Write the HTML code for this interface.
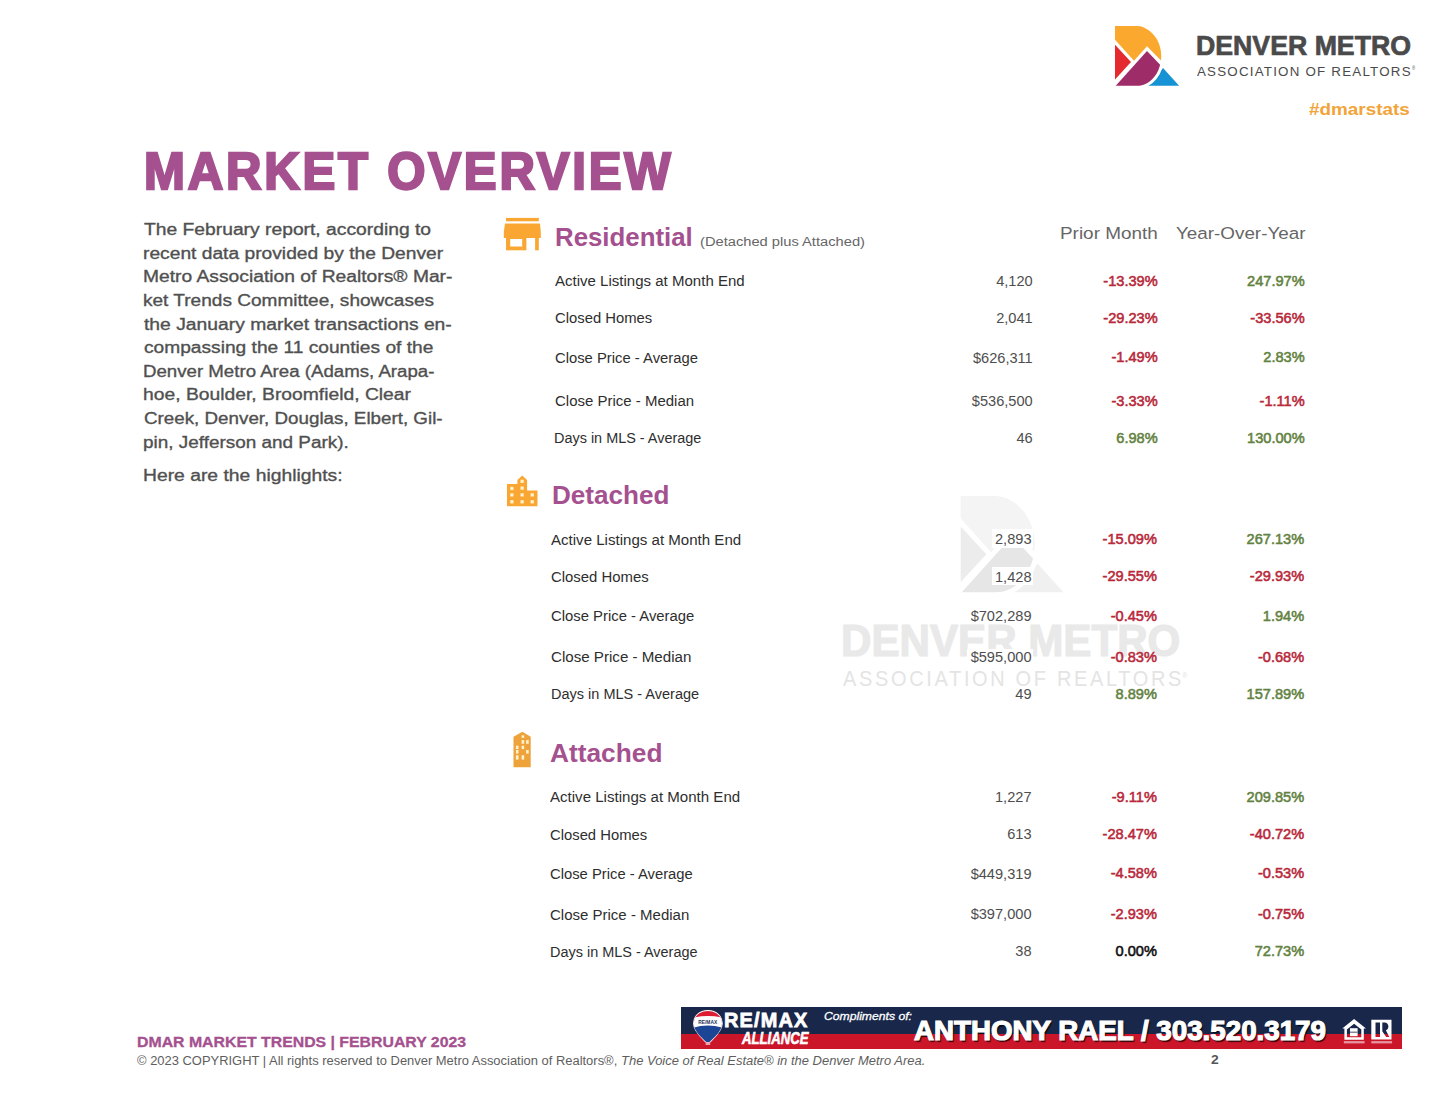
<!DOCTYPE html>
<html><head><meta charset="utf-8"><title>Market Overview</title>
<style>
html,body{margin:0;padding:0;background:#fff}
body{width:1441px;height:1114px;position:relative;overflow:hidden}
.abs{position:absolute}
.t{position:absolute;white-space:nowrap;line-height:1;transform-origin:0 0;font-family:"Liberation Sans",Arial,sans-serif}
</style></head><body>
<svg class="abs" style="left:0;top:0" width="1441" height="1114" viewBox="0 0 1441 1114">
<g transform="translate(960.3,495.8) scale(1.605)"><defs><clipPath id="wm"><path d="M0,0 L20.2,0 C34.7,0 46.4,13.6 46.4,30.3 C46.4,46.7 35.6,60.1 22.2,60.1 L0,60.1 Z"/></clipPath></defs>
<polygon points="32.5,60.1 48.2,42.3 64.3,60.1" fill="#f0f0f0"/>
<path d="M0,0 L20.2,0 C34.7,0 46.4,13.6 46.4,30.3 C46.4,46.7 35.6,60.1 22.2,60.1 L0,60.1 Z" fill="none" stroke="#fff" stroke-width="6"/>
<g clip-path="url(#wm)">
<polygon points="0,0 52,0 52,40.5 32.2,20.6 19.2,35.1 0,13.8" fill="#f4f4f4"/>
<polygon points="0,18.8 16.2,36.4 0,54.0" fill="#ececec"/>
<polygon points="0,61.1 32.2,25.3 52,46 52,65 0,65" fill="#e6e6e6"/>
</g></g>
</svg>
<div class="t" style="left:841.45px;top:619.47px;font-size:43.75px;font-weight:700;color:#e9e9e9;transform:scaleX(0.9628);-webkit-text-stroke:1.2px #e9e9e9;">DENVER METRO</div>
<div class="t" style="left:842.80px;top:668.46px;font-size:22.38px;font-weight:400;color:#e4e4e4;transform:scaleX(0.8922);letter-spacing:3px;">ASSOCIATION OF REALTORS</div>
<div class="t" style="left:1181.50px;top:671.73px;font-size:8.00px;font-weight:400;color:#e4e4e4;transform:scaleX(0.9167);">®</div>
<div class="abs" style="left:992px;top:529px;width:41px;height:19px;background:#fff"></div>
<div class="abs" style="left:992px;top:567px;width:41px;height:18px;background:#fff"></div>
<div class="abs" style="left:967px;top:606px;width:66px;height:18px;background:#fff"></div>
<div class="abs" style="left:967px;top:648.5px;width:66px;height:17px;background:#fff"></div>

<svg class="abs" style="left:0;top:0" width="1441" height="1114" viewBox="0 0 1441 1114">
<g transform="translate(1114.8,25.7)"><defs><clipPath id="hl"><path d="M0,0 L20.2,0 C34.7,0 46.4,13.6 46.4,30.3 C46.4,46.7 35.6,60.1 22.2,60.1 L0,60.1 Z"/></clipPath></defs>
<polygon points="32.5,60.1 48.2,42.3 64.3,60.1" fill="#1593d4"/>
<path d="M0,0 L20.2,0 C34.7,0 46.4,13.6 46.4,30.3 C46.4,46.7 35.6,60.1 22.2,60.1 L0,60.1 Z" fill="none" stroke="#fff" stroke-width="6"/>
<g clip-path="url(#hl)">
<polygon points="0,0 52,0 52,40.5 32.2,20.6 19.2,35.1 0,13.8" fill="#fba92e"/>
<polygon points="0,18.8 16.2,36.4 0,54.0" fill="#e42a2e"/>
<polygon points="0,61.1 32.2,25.3 52,46 52,65 0,65" fill="#9e2c68"/>
</g></g>
</svg>
<svg class="abs" style="left:0;top:0" width="1441" height="1114" viewBox="0 0 1441 1114">
<!-- store -->
<g fill="#f9a732">
<rect x="506.0" y="217.9" width="32.8" height="3.4"/>
<path d="M505.0,223.6 L540.0,223.6 L540.8,232 L540.8,237.9 L503.8,237.9 L503.8,232 Z"/>
<rect x="506.0" y="237.5" width="4.2" height="12.8"/>
<rect x="510.0" y="246.5" width="12.4" height="3.8"/><rect x="510.0" y="237.5" width="12.4" height="1.5"/>
<rect x="522.2" y="237.5" width="4.2" height="12.8"/>
<rect x="535.1" y="237.5" width="3.7" height="12.8"/>
</g>
<!-- city -->
<g>
<path fill="#f9a732" d="M507.0,484.0 L517.4,484.0 L517.4,480 L522.2,475.4 L527.1,480 L527.1,490.6 L537.5,490.6 L537.5,506.3 L507.0,506.3 Z"/>
<g fill="#fff3d0">
<rect x="510.3" y="486.9" width="3.2" height="3.2"/><rect x="510.3" y="493.3" width="3.2" height="3.2"/><rect x="510.3" y="500.2" width="3.2" height="3.2"/>
<rect x="520.5" y="479.7" width="3.2" height="3.2"/><rect x="520.5" y="486.5" width="3.2" height="3.2"/><rect x="520.5" y="493.3" width="3.2" height="3.2"/><rect x="520.5" y="500.2" width="3.2" height="3.2"/>
<rect x="530.6" y="493.3" width="3.2" height="3.2"/><rect x="530.6" y="500.2" width="3.2" height="3.2"/>
</g></g>
<!-- tall building -->
<g>
<path fill="#eda23a" d="M513.5,736.7 L522.4,731.8 L530.7,736.7 L530.7,767.2 L513.5,767.2 Z"/>
<g fill="#fff1cc">
<rect x="521.6" y="735.3" width="2.6" height="2.6"/>
<rect x="521.6" y="740.1" width="2.6" height="3.7"/><rect x="526.1" y="740.1" width="2.6" height="3.7"/>
<rect x="515.9" y="745.7" width="2.6" height="3.4"/><rect x="521.6" y="745.7" width="2.6" height="3.4"/>
<rect x="515.9" y="750.0" width="2.6" height="3.6"/><rect x="526.1" y="750.0" width="2.6" height="3.6"/>
<rect x="515.9" y="755.2" width="2.6" height="4.4"/><rect x="521.6" y="755.2" width="2.6" height="4.4"/>
</g></g>
</svg>
<div class="abs" style="left:681px;top:1007px;width:721px;height:27px;background:#18274a"></div>
<div class="abs" style="left:681px;top:1033.6px;width:721px;height:15.8px;background:#cb1529"></div>
<svg class="abs" style="left:0;top:0" width="1441" height="1114" viewBox="0 0 1441 1114">
<!-- balloon -->
<defs><clipPath id="bal"><path d="M707.9,1010.9 C716.5,1010.9 722,1016.5 722,1023.5 C722,1031 714,1037.5 709.5,1042 L706.3,1042 C701.8,1037.5 693.8,1031 693.8,1023.5 C693.8,1016.5 699.3,1010.9 707.9,1010.9 Z"/></clipPath></defs>
<path d="M707.9,1010.9 C716.5,1010.9 722,1016.5 722,1023.5 C722,1031 714,1037.5 709.5,1042 L706.3,1042 C701.8,1037.5 693.8,1031 693.8,1023.5 C693.8,1016.5 699.3,1010.9 707.9,1010.9 Z" fill="#fff" stroke="#fff" stroke-width="1.6"/>
<g clip-path="url(#bal)">
<rect x="690" y="1010" width="36" height="36" fill="#dc1e35"/>
<path d="M690,1018.6 Q707.9,1013.2 726,1018.6 L726,1046 L690,1046 Z" fill="#fff"/>
<path d="M690,1028.6 Q707.9,1022.6 726,1028.6 L726,1046 L690,1046 Z" fill="#1d4596"/>
</g>
<rect x="705.6" y="1042.4" width="4.6" height="2.6" fill="#f0a0a8"/>
<text x="698.2" y="1023.6" font-family="Liberation Sans" font-weight="700" font-size="5" fill="#1d3060" textLength="19" lengthAdjust="spacingAndGlyphs">RE/MAX</text>
<!-- equal housing -->
<g fill="#fff">
<path fill-rule="evenodd" d="M1354.1,1019.1 L1366,1028.5 L1363.8,1028.5 L1363.8,1039.7 L1344.4,1039.7 L1344.4,1028.5 L1342.2,1028.5 Z M1354.1,1023.8 L1361.3,1029.5 L1361.3,1037.2 L1346.9,1037.2 L1346.9,1029.5 Z"/>
<rect x="1350" y="1028.2" width="7.6" height="8"/>
<rect x="1343.8" y="1041.1" width="20.8" height="2.3" opacity="0.55"/>
<!-- realtor R -->
<path fill-rule="evenodd" d="M1371.3,1019.7 L1391.5,1019.7 L1391.5,1039.5 L1371.3,1039.5 Z M1375.5,1022.6 L1380,1022.6 L1380,1037 L1375.5,1037 Z M1382.3,1022.6 L1384.5,1022.6 C1387,1022.6 1388.4,1024.4 1388.4,1026.5 C1388.4,1028.5 1387.3,1029.8 1385.9,1030.3 L1389.3,1037 L1386.2,1037 L1382.3,1031.2 Z"/>
<rect x="1371.3" y="1041.1" width="20.8" height="2.3" opacity="0.55"/>
</g>
<rect x="1350" y="1031.6" width="7.6" height="1.2" fill="#6a6a7a"/>
</svg>

<div class="t" style="left:1196.06px;top:32.24px;font-size:27.18px;font-weight:700;color:#4a4a4a;transform:scaleX(0.9822);-webkit-text-stroke:0.7px #4a4a4a;">DENVER METRO</div>
<div class="t" style="left:1197.20px;top:64.73px;font-size:13.08px;font-weight:400;color:#4a4a4a;transform:scaleX(1.0191);letter-spacing:1.2px;">ASSOCIATION OF REALTORS</div>
<div class="t" style="left:1309.00px;top:100.83px;font-size:16.50px;font-weight:700;color:#f2a43a;transform:scaleX(1.1449);">#dmarstats</div>
<div class="t" style="left:144.42px;top:145.26px;font-size:52.62px;font-weight:700;color:#a5508f;transform:scaleX(0.9335);letter-spacing:3px;-webkit-text-stroke:2.4px #a5508f;">MARKET OVERVIEW</div>
<div class="t" style="left:144.00px;top:221.27px;font-size:17.08px;font-weight:400;color:#505050;transform:scaleX(1.1284);-webkit-text-stroke:0.35px #505050;">The February report, according to</div>
<div class="t" style="left:142.87px;top:244.87px;font-size:17.08px;font-weight:400;color:#505050;transform:scaleX(1.1252);-webkit-text-stroke:0.35px #505050;">recent data provided by the Denver</div>
<div class="t" style="left:142.87px;top:268.47px;font-size:17.08px;font-weight:400;color:#505050;transform:scaleX(1.1271);-webkit-text-stroke:0.35px #505050;">Metro Association of Realtors® Mar-</div>
<div class="t" style="left:142.88px;top:292.07px;font-size:17.08px;font-weight:400;color:#505050;transform:scaleX(1.1152);-webkit-text-stroke:0.35px #505050;">ket Trends Committee, showcases</div>
<div class="t" style="left:144.00px;top:315.67px;font-size:17.08px;font-weight:400;color:#505050;transform:scaleX(1.1297);-webkit-text-stroke:0.35px #505050;">the January market transactions en-</div>
<div class="t" style="left:144.00px;top:339.27px;font-size:17.08px;font-weight:400;color:#505050;transform:scaleX(1.1219);-webkit-text-stroke:0.35px #505050;">compassing the 11 counties of the</div>
<div class="t" style="left:142.90px;top:362.87px;font-size:17.08px;font-weight:400;color:#505050;transform:scaleX(1.0925);-webkit-text-stroke:0.35px #505050;">Denver Metro Area (Adams, Arapa-</div>
<div class="t" style="left:142.87px;top:386.47px;font-size:17.08px;font-weight:400;color:#505050;transform:scaleX(1.1292);-webkit-text-stroke:0.35px #505050;">hoe, Boulder, Broomfield, Clear</div>
<div class="t" style="left:143.99px;top:410.07px;font-size:17.08px;font-weight:400;color:#505050;transform:scaleX(1.0999);-webkit-text-stroke:0.35px #505050;">Creek, Denver, Douglas, Elbert, Gil-</div>
<div class="t" style="left:142.89px;top:433.67px;font-size:17.08px;font-weight:400;color:#505050;transform:scaleX(1.1082);-webkit-text-stroke:0.35px #505050;">pin, Jefferson and Park).</div>
<div class="t" style="left:142.87px;top:466.97px;font-size:17.08px;font-weight:400;color:#505050;transform:scaleX(1.1303);-webkit-text-stroke:0.35px #505050;">Here are the highlights:</div>
<div class="t" style="left:1060.18px;top:226.13px;font-size:16.86px;font-weight:400;color:#666666;transform:scaleX(1.1217);">Prior Month</div>
<div class="t" style="left:1175.90px;top:226.13px;font-size:16.86px;font-weight:400;color:#666666;transform:scaleX(1.1172);">Year-Over-Year</div>
<div class="t" style="left:554.91px;top:224.07px;font-size:26.02px;font-weight:700;color:#a5508f;transform:scaleX(0.9922);">Residential</div>
<div class="t" style="left:699.80px;top:234.76px;font-size:13.52px;font-weight:400;color:#666;transform:scaleX(1.0868);">(Detached plus Attached)</div>
<div class="t" style="left:551.70px;top:482.46px;font-size:26.16px;font-weight:700;color:#a5508f;transform:scaleX(0.9969);">Detached</div>
<div class="t" style="left:550.30px;top:740.18px;font-size:26.60px;font-weight:700;color:#a5508f;transform:scaleX(0.9882);">Attached</div>
<div class="t" style="left:554.50px;top:274.15px;font-size:14.24px;font-weight:400;color:#2e2e2e;transform:scaleX(1.0560);">Active Listings at Month End</div>
<div class="t" style="left:996.20px;top:273.84px;font-size:14.60px;font-weight:400;color:#4e4e4e;">4,120</div>
<div class="t" style="left:1103.35px;top:273.57px;font-size:14.60px;font-weight:400;color:#b8283a;-webkit-text-stroke:0.55px #b8283a;">-13.39%</div>
<div class="t" style="left:1247.09px;top:273.57px;font-size:14.60px;font-weight:400;color:#638241;-webkit-text-stroke:0.55px #638241;">247.97%</div>
<div class="t" style="left:554.50px;top:311.35px;font-size:14.24px;font-weight:400;color:#2e2e2e;transform:scaleX(1.0415);">Closed Homes</div>
<div class="t" style="left:996.20px;top:311.04px;font-size:14.60px;font-weight:400;color:#4e4e4e;">2,041</div>
<div class="t" style="left:1103.35px;top:310.77px;font-size:14.60px;font-weight:400;color:#b8283a;-webkit-text-stroke:0.55px #b8283a;">-29.23%</div>
<div class="t" style="left:1250.35px;top:310.77px;font-size:14.60px;font-weight:400;color:#b8283a;-webkit-text-stroke:0.55px #b8283a;">-33.56%</div>
<div class="t" style="left:554.50px;top:350.85px;font-size:14.24px;font-weight:400;color:#2e2e2e;transform:scaleX(1.0400);">Close Price - Average</div>
<div class="t" style="left:972.93px;top:350.54px;font-size:14.60px;font-weight:400;color:#4e4e4e;">$626,311</div>
<div class="t" style="left:1111.46px;top:350.27px;font-size:14.60px;font-weight:400;color:#b8283a;-webkit-text-stroke:0.55px #b8283a;">-1.49%</div>
<div class="t" style="left:1263.32px;top:350.27px;font-size:14.60px;font-weight:400;color:#638241;-webkit-text-stroke:0.55px #638241;">2.83%</div>
<div class="t" style="left:554.50px;top:394.45px;font-size:14.24px;font-weight:400;color:#2e2e2e;transform:scaleX(1.0526);">Close Price - Median</div>
<div class="t" style="left:971.85px;top:394.14px;font-size:14.60px;font-weight:400;color:#4e4e4e;">$536,500</div>
<div class="t" style="left:1111.46px;top:393.87px;font-size:14.60px;font-weight:400;color:#b8283a;-webkit-text-stroke:0.55px #b8283a;">-3.33%</div>
<div class="t" style="left:1259.55px;top:393.87px;font-size:14.60px;font-weight:400;color:#b8283a;-webkit-text-stroke:0.55px #b8283a;">-1.11%</div>
<div class="t" style="left:554.29px;top:431.25px;font-size:14.24px;font-weight:400;color:#2e2e2e;transform:scaleX(1.0139);">Days in MLS - Average</div>
<div class="t" style="left:1016.48px;top:430.94px;font-size:14.60px;font-weight:400;color:#4e4e4e;">46</div>
<div class="t" style="left:1116.32px;top:430.67px;font-size:14.60px;font-weight:400;color:#638241;-webkit-text-stroke:0.55px #638241;">6.98%</div>
<div class="t" style="left:1247.09px;top:430.67px;font-size:14.60px;font-weight:400;color:#638241;-webkit-text-stroke:0.55px #638241;">130.00%</div>
<div class="t" style="left:551.20px;top:532.75px;font-size:14.24px;font-weight:400;color:#2e2e2e;transform:scaleX(1.0588);">Active Listings at Month End</div>
<div class="t" style="left:995.00px;top:532.44px;font-size:14.60px;font-weight:400;color:#4e4e4e;">2,893</div>
<div class="t" style="left:1102.55px;top:532.17px;font-size:14.60px;font-weight:400;color:#b8283a;-webkit-text-stroke:0.55px #b8283a;">-15.09%</div>
<div class="t" style="left:1246.59px;top:532.17px;font-size:14.60px;font-weight:400;color:#638241;-webkit-text-stroke:0.55px #638241;">267.13%</div>
<div class="t" style="left:551.20px;top:569.95px;font-size:14.24px;font-weight:400;color:#2e2e2e;transform:scaleX(1.0458);">Closed Homes</div>
<div class="t" style="left:995.00px;top:569.64px;font-size:14.60px;font-weight:400;color:#4e4e4e;">1,428</div>
<div class="t" style="left:1102.55px;top:569.37px;font-size:14.60px;font-weight:400;color:#b8283a;-webkit-text-stroke:0.55px #b8283a;">-29.55%</div>
<div class="t" style="left:1249.85px;top:569.37px;font-size:14.60px;font-weight:400;color:#b8283a;-webkit-text-stroke:0.55px #b8283a;">-29.93%</div>
<div class="t" style="left:551.20px;top:609.15px;font-size:14.24px;font-weight:400;color:#2e2e2e;transform:scaleX(1.0429);">Close Price - Average</div>
<div class="t" style="left:970.65px;top:608.84px;font-size:14.60px;font-weight:400;color:#4e4e4e;">$702,289</div>
<div class="t" style="left:1110.66px;top:608.57px;font-size:14.60px;font-weight:400;color:#b8283a;-webkit-text-stroke:0.55px #b8283a;">-0.45%</div>
<div class="t" style="left:1262.82px;top:608.57px;font-size:14.60px;font-weight:400;color:#638241;-webkit-text-stroke:0.55px #638241;">1.94%</div>
<div class="t" style="left:551.20px;top:650.15px;font-size:14.24px;font-weight:400;color:#2e2e2e;transform:scaleX(1.0625);">Close Price - Median</div>
<div class="t" style="left:970.65px;top:649.84px;font-size:14.60px;font-weight:400;color:#4e4e4e;">$595,000</div>
<div class="t" style="left:1110.66px;top:649.57px;font-size:14.60px;font-weight:400;color:#b8283a;-webkit-text-stroke:0.55px #b8283a;">-0.83%</div>
<div class="t" style="left:1257.96px;top:649.57px;font-size:14.60px;font-weight:400;color:#b8283a;-webkit-text-stroke:0.55px #b8283a;">-0.68%</div>
<div class="t" style="left:550.98px;top:687.15px;font-size:14.24px;font-weight:400;color:#2e2e2e;transform:scaleX(1.0194);">Days in MLS - Average</div>
<div class="t" style="left:1015.28px;top:686.84px;font-size:14.60px;font-weight:400;color:#4e4e4e;">49</div>
<div class="t" style="left:1115.52px;top:686.57px;font-size:14.60px;font-weight:400;color:#638241;-webkit-text-stroke:0.55px #638241;">8.89%</div>
<div class="t" style="left:1246.59px;top:686.57px;font-size:14.60px;font-weight:400;color:#638241;-webkit-text-stroke:0.55px #638241;">157.89%</div>
<div class="t" style="left:550.30px;top:790.25px;font-size:14.24px;font-weight:400;color:#2e2e2e;transform:scaleX(1.0588);">Active Listings at Month End</div>
<div class="t" style="left:995.00px;top:789.94px;font-size:14.60px;font-weight:400;color:#4e4e4e;">1,227</div>
<div class="t" style="left:1111.75px;top:789.67px;font-size:14.60px;font-weight:400;color:#b8283a;-webkit-text-stroke:0.55px #b8283a;">-9.11%</div>
<div class="t" style="left:1246.59px;top:789.67px;font-size:14.60px;font-weight:400;color:#638241;-webkit-text-stroke:0.55px #638241;">209.85%</div>
<div class="t" style="left:550.30px;top:827.75px;font-size:14.24px;font-weight:400;color:#2e2e2e;transform:scaleX(1.0404);">Closed Homes</div>
<div class="t" style="left:1007.17px;top:827.44px;font-size:14.60px;font-weight:400;color:#4e4e4e;">613</div>
<div class="t" style="left:1102.55px;top:827.17px;font-size:14.60px;font-weight:400;color:#b8283a;-webkit-text-stroke:0.55px #b8283a;">-28.47%</div>
<div class="t" style="left:1249.85px;top:827.17px;font-size:14.60px;font-weight:400;color:#b8283a;-webkit-text-stroke:0.55px #b8283a;">-40.72%</div>
<div class="t" style="left:550.30px;top:866.95px;font-size:14.24px;font-weight:400;color:#2e2e2e;transform:scaleX(1.0393);">Close Price - Average</div>
<div class="t" style="left:970.65px;top:866.64px;font-size:14.60px;font-weight:400;color:#4e4e4e;">$449,319</div>
<div class="t" style="left:1110.66px;top:866.37px;font-size:14.60px;font-weight:400;color:#b8283a;-webkit-text-stroke:0.55px #b8283a;">-4.58%</div>
<div class="t" style="left:1257.96px;top:866.37px;font-size:14.60px;font-weight:400;color:#b8283a;-webkit-text-stroke:0.55px #b8283a;">-0.53%</div>
<div class="t" style="left:550.30px;top:907.75px;font-size:14.24px;font-weight:400;color:#2e2e2e;transform:scaleX(1.0541);">Close Price - Median</div>
<div class="t" style="left:970.65px;top:907.44px;font-size:14.60px;font-weight:400;color:#4e4e4e;">$397,000</div>
<div class="t" style="left:1110.66px;top:907.17px;font-size:14.60px;font-weight:400;color:#b8283a;-webkit-text-stroke:0.55px #b8283a;">-2.93%</div>
<div class="t" style="left:1257.96px;top:907.17px;font-size:14.60px;font-weight:400;color:#b8283a;-webkit-text-stroke:0.55px #b8283a;">-0.75%</div>
<div class="t" style="left:550.08px;top:944.75px;font-size:14.24px;font-weight:400;color:#2e2e2e;transform:scaleX(1.0153);">Days in MLS - Average</div>
<div class="t" style="left:1015.28px;top:944.44px;font-size:14.60px;font-weight:400;color:#4e4e4e;">38</div>
<div class="t" style="left:1115.52px;top:944.17px;font-size:14.60px;font-weight:400;color:#111;-webkit-text-stroke:0.55px #111;">0.00%</div>
<div class="t" style="left:1254.70px;top:944.17px;font-size:14.60px;font-weight:400;color:#638241;-webkit-text-stroke:0.55px #638241;">72.73%</div>
<div class="t" style="left:1411.60px;top:65.77px;font-size:5.00px;font-weight:400;color:#4a4a4a;transform:scaleX(0.8500);">®</div>
<div class="t" style="left:136.90px;top:1055.42px;font-size:12.50px;font-weight:400;color:#5e5e5e;transform:scaleX(1.0350);">© 2023 COPYRIGHT | All rights reserved to Denver Metro Association of Realtors®,</div>
<div class="t" style="left:620.96px;top:1055.42px;font-size:12.50px;font-weight:400;color:#5e5e5e;transform:scaleX(1.0380);font-style:italic;">The Voice of Real Estate® in the Denver Metro Area.</div>
<div class="t" style="left:137.11px;top:1033.85px;font-size:15.12px;font-weight:700;color:#a5508f;transform:scaleX(1.0480);-webkit-text-stroke:0.3px #a5508f;">DMAR MARKET TRENDS | FEBRUARY 2023</div>
<div class="t" style="left:1210.90px;top:1053.26px;font-size:13.52px;font-weight:700;color:#555;transform:scaleX(1.0286);">2</div>
<div class="t" style="left:723.81px;top:1010.07px;font-size:20.35px;font-weight:700;color:#fff;transform:scaleX(0.9783);letter-spacing:1.2px;-webkit-text-stroke:0.8px #fff;">RE/MAX</div>
<div class="t" style="left:742.29px;top:1030.16px;font-size:17.30px;font-weight:700;color:#fff;transform:scaleX(0.7626);font-style:italic;-webkit-text-stroke:0.6px #fff;">ALLIANCE</div>
<div class="t" style="left:824.46px;top:1010.21px;font-size:11.63px;font-weight:400;color:#fff;transform:scaleX(1.0469);font-style:italic;-webkit-text-stroke:0.3px #fff;">Compliments of:</div>
<div class="t" style="left:913.60px;top:1017.17px;font-size:27.91px;font-weight:700;color:#fff;transform:scaleX(0.9934);-webkit-text-stroke:1.2px #fff;text-shadow:1.5px 1.5px 1px rgba(0,0,0,0.75);">ANTHONY RAEL / 303.520.3179</div>
</body></html>
